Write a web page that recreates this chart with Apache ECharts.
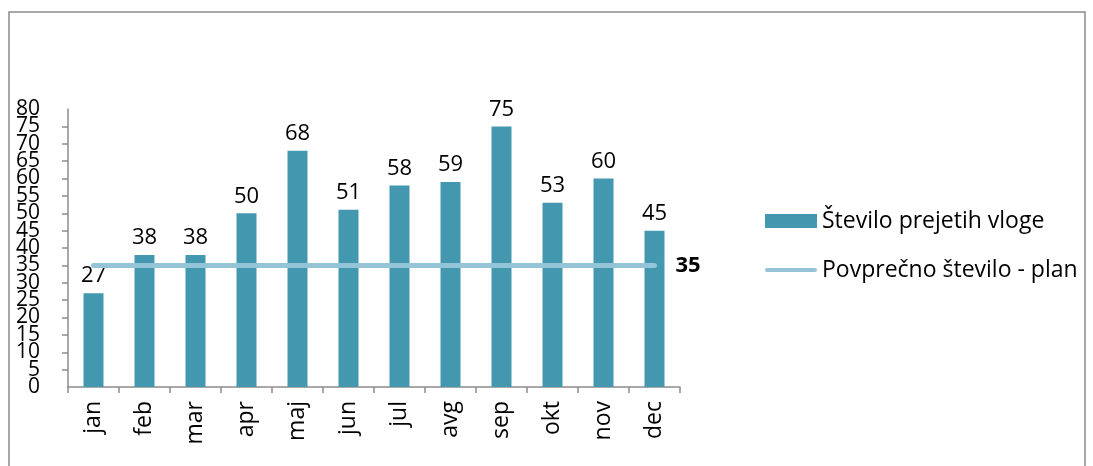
<!DOCTYPE html>
<html>
<head>
<meta charset="utf-8">
<script src="https://cdn.jsdelivr.net/npm/echarts@6/dist/echarts.min.js"></script>
<style>
  html, body { margin: 0; padding: 0; background: #fff; }
  #chart { width: 1093px; height: 466px; }
</style>
</head>
<body>
<div id="chart"></div>
<script>
const months = ['jan', 'feb', 'mar', 'apr', 'maj', 'jun', 'jul', 'avg', 'sep', 'okt', 'nov', 'dec']
const received = [27, 38, 38, 50, 68, 51, 58, 59, 75, 53, 60, 45]
const plan = [35, 35, 35, 35, 35, 35, 35, 35, 35, 35, 35, 35]

const font = '"Open Sans", "Noto Sans", sans-serif'
const chart = echarts.init(document.getElementById('chart'))

const yLabel = { fontSize: 21, lineHeight: 14, color: '#000', fontFamily: font, margin: 28 }

chart.setOption({
  animation: false,
  textStyle: { fontFamily: font },
  title: {
    text: 'Letni pregled: število prejetih vlog',
    left: 'center',
    top: -27,
    textStyle: { fontSize: 20, fontWeight: 'bold', color: '#000', fontFamily: font },
  },
  graphic: [
    {
      type: 'rect',
      shape: { x: 9, y: 12, width: 1076, height: 470 },
      style: { fill: 'none', stroke: '#8c8c8c', lineWidth: 1.5 },
      silent: true,
    },
  ],
  legend: {
    orient: 'vertical',
    left: 760,
    top: 204,
    itemGap: 25,
    itemWidth: 52,
    itemHeight: 14,
    textStyle: { fontSize: 23, lineHeight: 24, color: '#000', fontFamily: font },
    data: [
      { name: 'Število prejetih vloge', icon: 'rect' },
      { name: 'Povprečno število - plan', icon: 'path://M2,0 L50,0 A2,2 0 0 1 50,4 L2,4 A2,2 0 0 1 2,0 Z', itemStyle: { color: '#93c4d7' } },
    ],
  },
  grid: { left: 68, right: 413, top: 109, bottom: 79 },
  xAxis: {
    type: 'category',
    data: months,
    axisLine: { lineStyle: { color: '#8c8c8c', width: 1.5 } },
    axisTick: { show: true, length: 6, lineStyle: { color: '#8c8c8c', width: 1.5 } },
    axisLabel: { rotate: 90, fontSize: 23, color: '#000', margin: 14 },
  },
  yAxis: [
    {
      // ticks every 5, inner labels (5..75)
      type: 'value',
      min: 0,
      max: 80,
      interval: 5,
      splitLine: { show: false },
      axisLine: { show: true, lineStyle: { color: '#8c8c8c', width: 1.5 } },
      axisTick: { show: true, length: 6, lineStyle: { color: '#8c8c8c', width: 1.5 } },
      axisLabel: { ...yLabel, showMinLabel: false, showMaxLabel: false },
    },
    {
      // end labels 0 and 80
      type: 'value',
      position: 'left',
      min: 0,
      max: 80,
      interval: 80,
      splitLine: { show: false },
      axisLine: { show: false },
      axisTick: { show: false },
      axisLabel: { ...yLabel },
    },
  ],
  series: [
    {
      name: 'Število prejetih vloge',
      type: 'bar',
      data: received,
      barWidth: 20,
      itemStyle: { color: '#4398b0' },
      label: { show: true, position: 'top', distance: 6, fontSize: 22, color: '#000' },
    },
    {
      name: 'Povprečno število - plan',
      type: 'line',
      data: plan,
      symbol: 'none',
      lineStyle: { color: '#93c4d7', width: 5, cap: 'round' },
      itemStyle: { color: '#93c4d7' },
      z: 3,
      endLabel: {
        show: true,
        distance: 21,
        fontSize: 22,
        fontWeight: 'bold',
        color: '#000',
      },
    },
  ],
})

window.addEventListener('resize', () => chart.resize())
</script>
</body>
</html>
